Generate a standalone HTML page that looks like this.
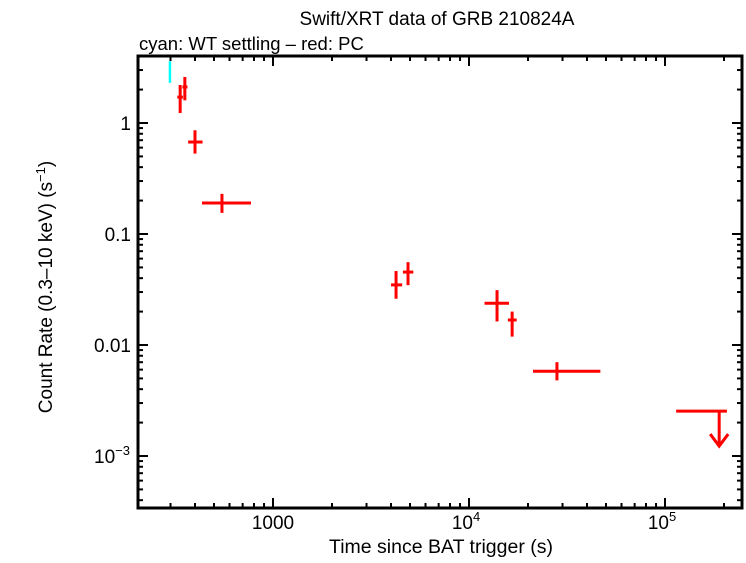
<!DOCTYPE html>
<html><head><meta charset="utf-8"><style>
body{margin:0;background:#fff}
svg text{font-family:"Liberation Sans",sans-serif}
</style></head><body>
<svg id="c" width="746" height="558">
<text x="437" y="25" font-size="19" text-anchor="middle">Swift/XRT data of GRB 210824A</text>
<text x="139" y="50" font-size="18.5">cyan: WT settling – red: PC</text>
<text x="441" y="553" font-size="19.5" text-anchor="middle">Time since BAT trigger (s)</text>
<text transform="translate(52,287) rotate(-90)" font-size="19" text-anchor="middle">Count Rate (0.3–10 keV) (s<tspan dy="-7" font-size="13">−1</tspan><tspan dy="7">)</tspan></text>
<g id="ax"></g><g id="marks"></g>
</svg>
<script>
const wtT=[298], wtR=[2.88], wtTlo=[296], wtThi=[300], wtRlo=[2.3], wtRhi=[3.6];
const pcT=[336,355,400,549,4245,4885,13900,16600,28100];
const pcTlo=[325,345,369,434,4000,4600,12000,15800,21200];
const pcThi=[347,366,437,772,4560,5200,16000,17500,46800];
const pcR=[1.71,2.11,0.674,0.19,0.0348,0.0454,0.0238,0.0168,0.0058];
const pcRlo=[1.23,1.6,0.53,0.155,0.0261,0.0346,0.0163,0.0119,0.0048];
const pcRhi=[2.2,2.6,0.86,0.23,0.0464,0.0558,0.0312,0.0200,0.0070];
const ulT=[189000], ulTlo=[114000], ulThi=[207000], ulR=[0.00254];
const xTickVals=[1000,10000,100000], xTickLabels=["1000","10","10"], xTickExp=["","4","5"];
const yTickVals=[1,0.1,0.01,0.001], yTickLabels=["1","0.1","0.01","10"], yTickExp=["","","","−3"];
const L=138,R=742,T=56,B=508;
const X=t=>273+196*(Math.log10(t)-3);
const Y=r=>123-111*Math.log10(r);
const NS="http://www.w3.org/2000/svg";
function mk(p,tag,a){const e=document.createElementNS(NS,tag);for(const k in a)e.setAttribute(k,a[k]);p.appendChild(e);return e;}
const ax=document.getElementById('ax'), mg=document.getElementById('marks');
const fr=mk(ax,'rect',{x:L,y:T,width:R-L,height:B-T,fill:'none',stroke:'#000','stroke-width':3});


for(let d=100;d<=1e5;d*=10){for(let m=1;m<10;m++){const v=d*m,x=X(v);if(x<L||x>R)continue;const len=m==1?10:5;
mk(ax,'line',{x1:x,y1:B,x2:x,y2:B-len,stroke:'#000','stroke-width':2});mk(ax,'line',{x1:x,y1:T,x2:x,y2:T+len,stroke:'#000','stroke-width':2});}}
for(let d=1e-4;d<=1;d*=10){for(let m=1;m<10;m++){const v=d*m,y=Y(v);if(y<T||y>B)continue;const len=m==1?10:5;
mk(ax,'line',{x1:L,y1:y,x2:L+len,y2:y,stroke:'#000','stroke-width':2});mk(ax,'line',{x1:R,y1:y,x2:R-len,y2:y,stroke:'#000','stroke-width':2});}}
xTickVals.forEach((v,i)=>{const t=mk(ax,'text',{x:X(v)+(xTickExp[i]?-3:0),y:529,'font-size':19,'text-anchor':'middle'});t.textContent=xTickLabels[i];
if(xTickExp[i]){const s=mk(t,'tspan',{dy:-8,'font-size':13});s.textContent=xTickExp[i];}

});
yTickVals.forEach((v,i)=>{const t=mk(ax,'text',{x:yTickExp[i]?125:131,y:Y(v)+7,'font-size':19,'text-anchor':'end'});
if(yTickExp[i]){t.setAttribute('x',94);t.setAttribute('text-anchor','start');}
t.textContent=yTickLabels[i];
if(yTickExp[i]){const s=mk(t,'tspan',{dy:-8,'font-size':13});s.textContent=yTickExp[i];}

});
function pt(t,tl,th,r,rl,rh,col,name,w){const g=mk(mg,'g',{stroke:col,'stroke-width':w});


mk(g,'line',{x1:X(tl),y1:Y(r),x2:X(th),y2:Y(r)});mk(g,'line',{x1:X(t),y1:Y(rl),x2:X(t),y2:Y(rh)});}
wtT.forEach((t,i)=>pt(t,wtTlo[i]-2,wtThi[i]+2,wtR[i],wtRlo[i],wtRhi[i],'#00ffff','wt-point',2.5));
pcT.forEach((t,i)=>pt(t,pcTlo[i],pcThi[i],pcR[i],pcRlo[i],pcRhi[i],'#ff0000','pc-point',3));
ulT.forEach((t,i)=>{const g=mk(mg,'g',{stroke:'#ff0000','stroke-width':3,fill:'none'});


const y=Y(ulR[i]),x=X(t);
mk(g,'line',{x1:X(ulTlo[i]),y1:y,x2:X(ulThi[i]),y2:y});mk(g,'line',{x1:x,y1:y,x2:x,y2:y+35});
mk(g,'polyline',{points:`${x-9},${y+23} ${x},${y+35} ${x+9},${y+23}`});});
</script>
</body></html>
